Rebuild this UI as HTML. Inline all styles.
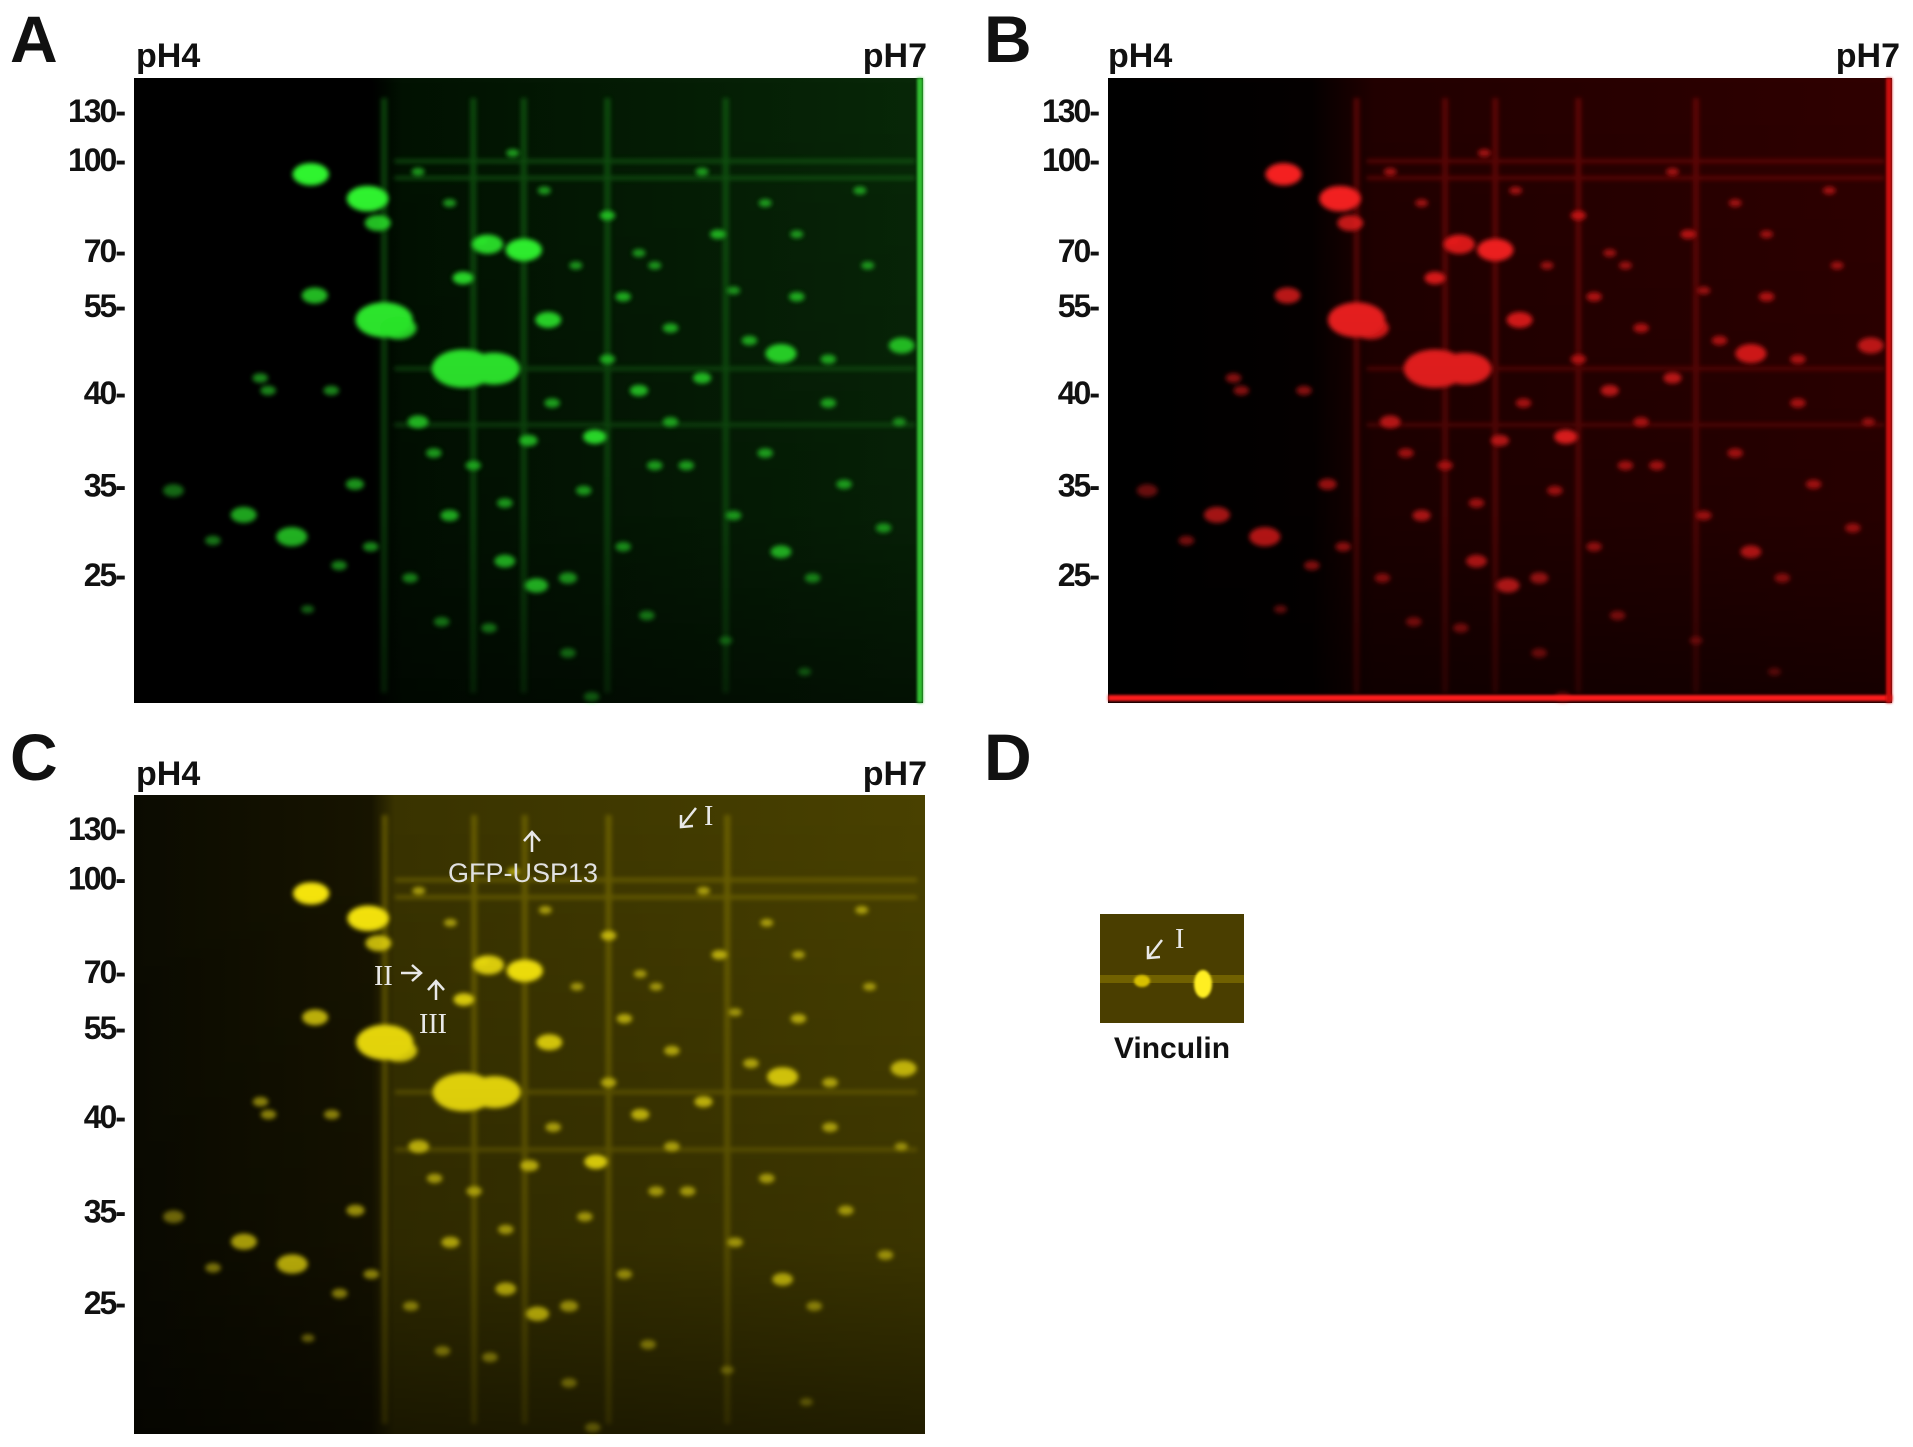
<!DOCTYPE html>
<html><head><meta charset="utf-8">
<style>
html,body{margin:0;padding:0;background:#fff;}
svg{display:block;}
.lbl{font-family:"Liberation Sans",Arial,sans-serif;font-weight:bold;fill:#111;}
.tick{font-family:"Liberation Sans",Arial,sans-serif;font-weight:bold;fill:#111;font-size:32px;letter-spacing:-2px;}
.ann{font-family:"Liberation Serif",serif;fill:#e8e8e8;font-size:28px;}
</style></head>
<body>
<svg id="fig" width="1913" height="1447" viewBox="0 0 1913 1447" xmlns="http://www.w3.org/2000/svg">
<defs>
  <filter id="blur" x="-50%" y="-50%" width="200%" height="200%"><feGaussianBlur stdDeviation="2.5"/></filter>
  <filter id="blurS" x="-50%" y="-50%" width="200%" height="200%"><feGaussianBlur stdDeviation="1.2"/></filter>
  <linearGradient id="bgA" x1="0" x2="1" y1="0" y2="0">
    <stop offset="0" stop-color="#000"/><stop offset="0.3" stop-color="#000"/><stop offset="0.34" stop-color="#021202"/><stop offset="1" stop-color="#082808"/>
  </linearGradient>
  <linearGradient id="bgB" x1="0" x2="1" y1="0" y2="0">
    <stop offset="0" stop-color="#000"/><stop offset="0.26" stop-color="#050000"/><stop offset="0.34" stop-color="#220000"/><stop offset="1" stop-color="#300000"/>
  </linearGradient>
  <linearGradient id="bgC" x1="0" x2="1" y1="0" y2="0">
    <stop offset="0" stop-color="#0c0c02"/><stop offset="0.3" stop-color="#181500"/><stop offset="0.33" stop-color="#3a3400"/><stop offset="1" stop-color="#4a4200"/>
  </linearGradient>
  <linearGradient id="fadeV" x1="0" x2="0" y1="0" y2="1">
    <stop offset="0" stop-color="#000" stop-opacity="0"/><stop offset="0.7" stop-color="#000" stop-opacity="0.2"/><stop offset="1" stop-color="#000" stop-opacity="0.55"/>
  </linearGradient>
</defs>
<g id="panels"></g>
</svg>
<script>
// Spot data (normalized gel coordinates x: pI axis 0..1, y: MW axis 0..1), sizes, intensity
const spotX = [.224,.296,.309,.229,.317,.335,.417,.456,.448,.494,.525,.584,.51,.139,.20,.82,.973,.47,.82,.417,.05,.16,.17,.25,.28,.36,.38,.40,.43,.47,.50,.53,.55,.57,.60,.62,.64,.66,.68,.70,.72,.74,.76,.78,.80,.84,.86,.88,.90,.93,.95,.97,.36,.40,.44,.48,.52,.56,.60,.64,.68,.72,.76,.80,.84,.88,.92,.45,.55,.65,.75,.85,.58,.62,.66,.35,.39,.30,.26,.22,.10];
const spotY = [.154,.193,.232,.348,.387,.40,.465,.465,.266,.275,.387,.574,.812,.699,.734,.441,.428,.773,.758,.32,.66,.48,.50,.50,.65,.55,.60,.70,.62,.68,.58,.52,.80,.66,.45,.35,.50,.30,.55,.62,.48,.25,.70,.42,.60,.35,.80,.52,.65,.30,.72,.55,.15,.20,.26,.12,.18,.30,.22,.28,.40,.15,.34,.20,.25,.45,.18,.88,.92,.86,.90,.95,.99,.75,.62,.80,.87,.75,.78,.85,.74];
const spotR = [14,16,10,10,22,14,24,20,12,14,10,9,9,10,12,12,10,8,8,8,8,6,6,6,7,8,6,7,6,6,7,6,7,6,6,6,7,5,6,6,7,6,6,6,6,6,6,6,6,5,6,5,5,5,5,5,5,5,6,5,6,5,5,5,5,6,5,6,6,6,5,5,6,6,6,6,6,6,6,5,6];
const spotI = [1,1,.8,.8,1,.9,1,1,.9,1,.9,1,1,.8,.9,.9,.8,.9,.9,.9,.5,.6,.6,.6,.7,.8,.7,.8,.7,.7,.8,.7,.8,.7,.7,.7,.8,.6,.7,.7,.8,.7,.7,.7,.7,.7,.7,.7,.7,.6,.7,.6,.6,.6,.6,.6,.6,.6,.7,.6,.7,.6,.6,.6,.6,.7,.6,.7,.7,.7,.6,.6,.7,.7,.7,.7,.7,.7,.7,.6,.6];
// streaks
const vStreakX = [.317,.43,.494,.60,.75];
const hStreakY = [.133,.16,.555,.465];
const mwTicks = ["130","100","70","55","40","35","25"];
const mwTickY = [.053,.131,.277,.365,.504,.652,.795];

const NS = "http://www.w3.org/2000/svg";
const root = document.getElementById('panels');
function mk(tag, attrs, parent){const e=document.createElementNS(NS,tag);for(const k in attrs)e.setAttribute(k,attrs[k]);parent.appendChild(e);return e;}

function gel(id, x0, y0, w, h, bg, color, streakColor, tickSet){
  const g = mk('g',{},root);
  
  
  const sx = v => x0 + v*w, sy = v => y0 + v*h;
  mk('rect',{x:x0,y:y0,width:w,height:h,fill:bg},g);
  const st = mk('g',{filter:'url(#blur)',opacity:.45},g);
  vStreakX.forEach(v=>mk('rect',{x:sx(v)-3,y:y0+20,width:6,height:h-30,fill:streakColor},st));
  hStreakY.forEach(v=>mk('rect',{x:sx(.33),y:sy(v)-2,width:w*.66,height:4,fill:streakColor},st));
  const sp = mk('g',{filter:'url(#blur)'},g);
  spotX.forEach((v,i)=>{
    const c = mk('ellipse',{cx:sx(v),cy:sy(spotY[i]),rx:spotR[i]*1.3,ry:spotR[i]*0.8,fill:color,opacity:spotI[i]},sp);
    
    
  });
  mk('rect',{x:x0,y:y0,width:w,height:h,fill:'url(#fadeV)'},g);
  if(tickSet){
    mwTicks.forEach((t,i)=>{
      const tx = mk('text',{x:x0-10,y:sy(mwTickY[i])+11,'text-anchor':'end',class:'tick'},g);
      tx.textContent = t+"-";
      
      
    });
  }
}
gel('gel-a-green',134,78,789,625,'url(#bgA)','#30ff30','#1a8a1a',true);
gel('gel-b-red',1108,78,784,625,'url(#bgB)','#ff2020','#a01010',true);
gel('gel-c-merge',134,795,791,639,'url(#bgC)','#ffee10','#9a8a00',true);
mk('rect',{x:1108,y:695,width:784,height:6,fill:'#ff1a1a',filter:'url(#blurS)'},root);
mk('rect',{x:1886,y:78,width:6,height:625,fill:'#cc1010',filter:'url(#blurS)'},root);
mk('rect',{x:917,y:78,width:6,height:625,fill:'#30c030',filter:'url(#blurS)'},root);
</script>
<svg style="position:absolute;left:0;top:0" width="1913" height="1447" xmlns="http://www.w3.org/2000/svg">
  <text class="lbl" x="10" y="62" font-size="66">A</text>
  <text class="lbl" x="984" y="62" font-size="66">B</text>
  <text class="lbl" x="10" y="780" font-size="66">C</text>
  <text class="lbl" x="984" y="780" font-size="66">D</text>
  <text class="lbl" x="136" y="67" font-size="34">pH4</text>
  <text class="lbl" x="927" y="67" font-size="34" text-anchor="end">pH7</text>
  <text class="lbl" x="1108" y="67" font-size="34">pH4</text>
  <text class="lbl" x="1900" y="67" font-size="34" text-anchor="end">pH7</text>
  <text class="lbl" x="136" y="785" font-size="34">pH4</text>
  <text class="lbl" x="927" y="785" font-size="34" text-anchor="end">pH7</text>
  <g stroke="#e8e8e8" stroke-width="2.5" fill="none">
    <path d="M532 852 L532 832 M524 841 L532 832 L540 841"/>
    <path d="M696 808 L681 827 M681 815 L681 827 L693 826"/>
    <path d="M401 973 L421 973 M412 965 L421 973 L412 981"/>
    <path d="M436 1000 L436 981 M428 990 L436 981 L444 990"/>
  </g>
  <text x="523" y="882" font-size="27" text-anchor="middle" fill="#e0e0e0" font-family="Liberation Sans, Arial, sans-serif">GFP-USP13</text>
  <text class="ann" x="704" y="825">I</text>
  <text class="ann" x="374" y="985">II</text>
  <text class="ann" x="419" y="1033">III</text>
  <g>
    <rect x="1100" y="914" width="144" height="109" fill="#4a3e00"/>
    <rect x="1100" y="975" width="144" height="8" fill="#7a6a00" opacity=".8"/>
    <ellipse cx="1142" cy="981" rx="8" ry="6" fill="#d8c000" filter="url(#blurS)"/>
    <ellipse cx="1203" cy="984" rx="9" ry="14" fill="#ffee20" filter="url(#blurS)"/>
    <path d="M1162 940 L1148 958 M1148 946 L1148 958 L1160 957" stroke="#e8e8e8" stroke-width="2.5" fill="none"/>
    <text class="ann" x="1175" y="948">I</text>
  </g>
  <text class="lbl" x="1172" y="1058" font-size="30" text-anchor="middle">Vinculin</text>
</svg>
</body></html>
